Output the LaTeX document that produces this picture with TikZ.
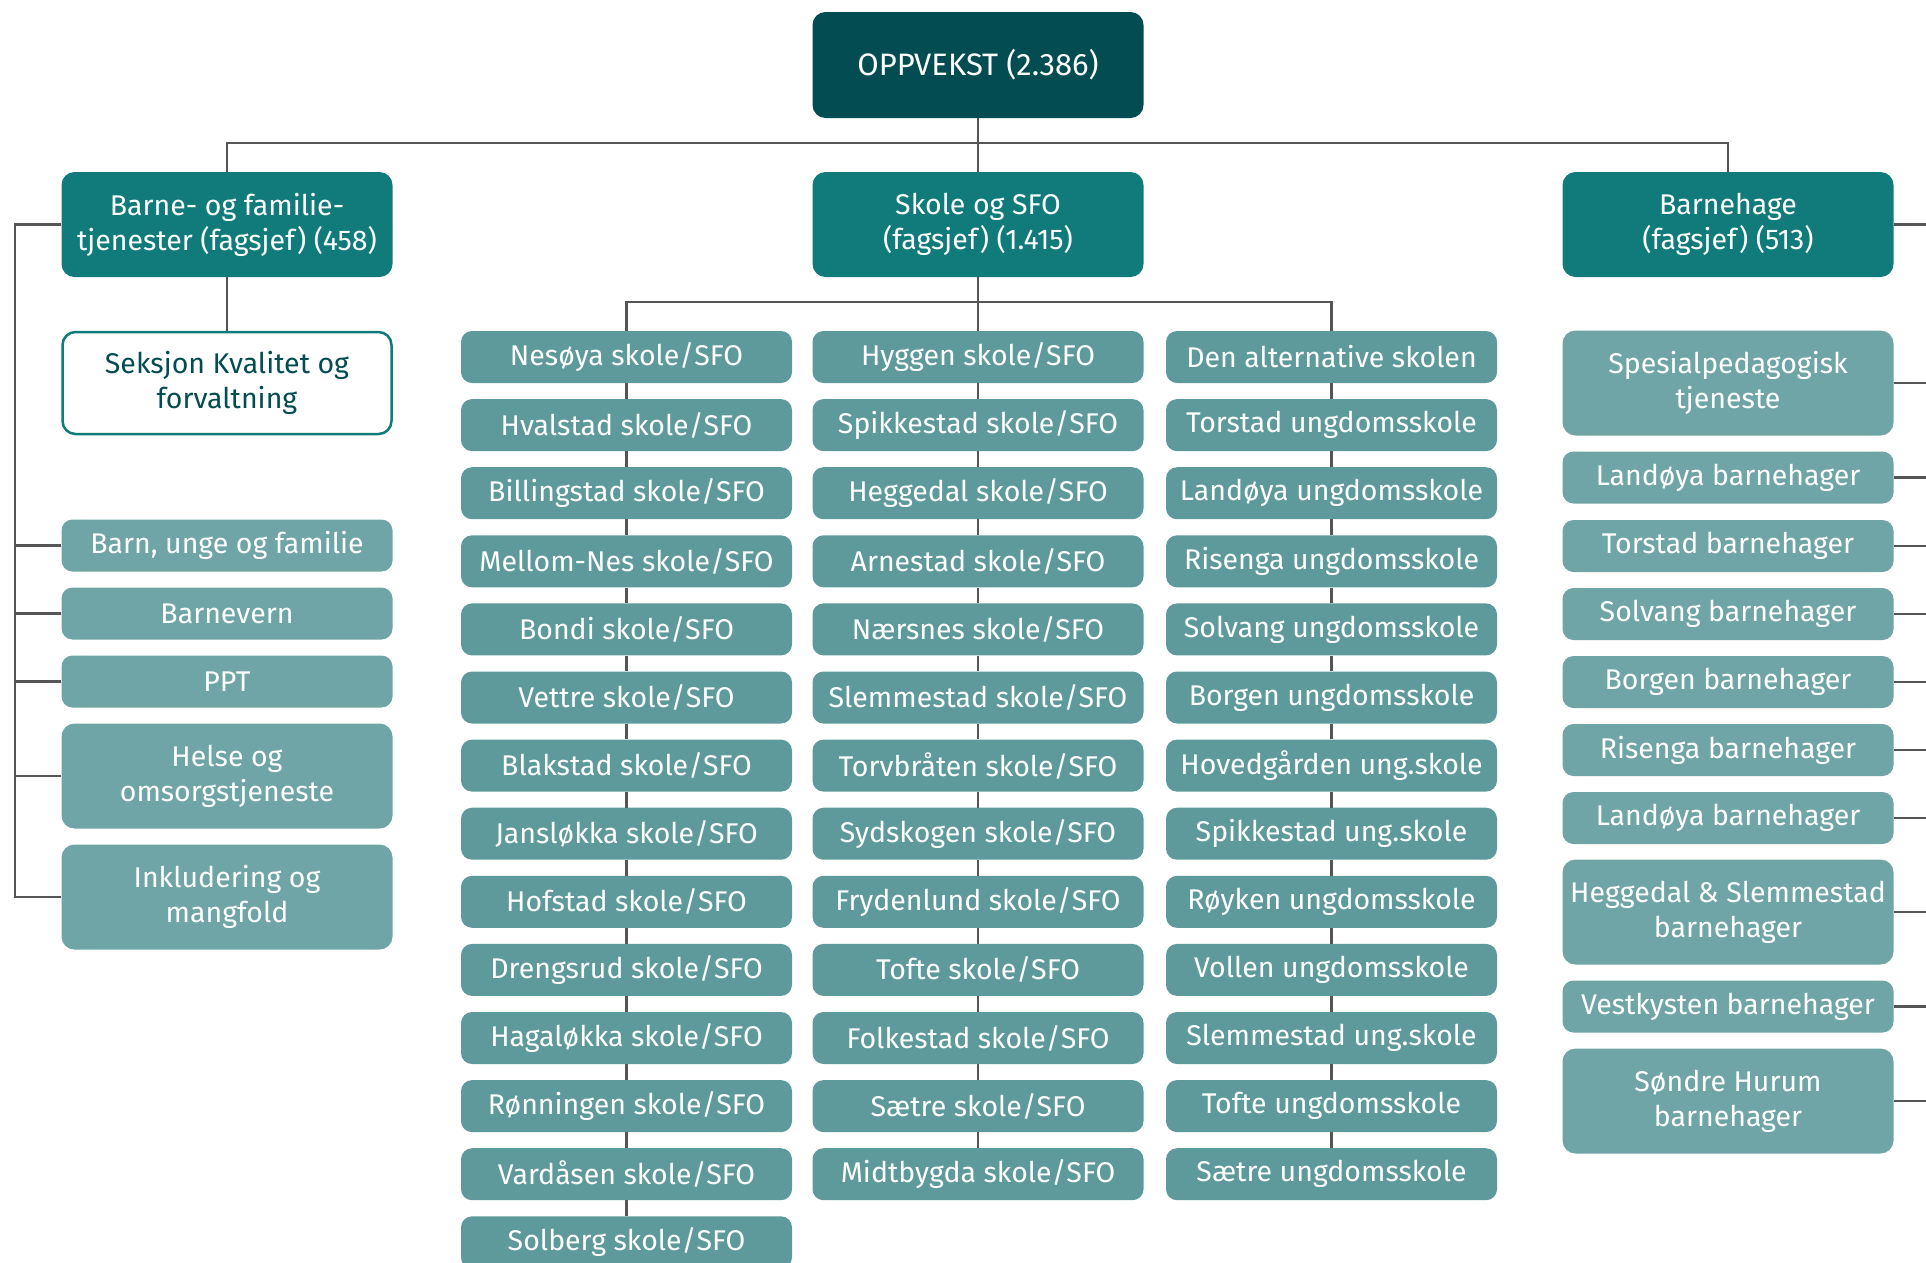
\documentclass[tikz,border=0pt]{standalone}
\usepackage{fontspec}
\setmainfont{Fira Sans}
\definecolor{rootc}{RGB}{3,76,82}
\definecolor{lvltwo}{RGB}{17,123,124}
\definecolor{schoolc}{RGB}{94,154,155}
\definecolor{subc}{RGB}{112,165,167}
\definecolor{linec}{RGB}{85,85,85}
\begin{document}
\begin{tikzpicture}[x=1pt,y=-1pt,
  basebox/.style={rounded corners=11pt, minimum width=331pt, minimum height=52pt, inner sep=0pt, align=center, text=white, font=\fontsize{28.5}{35}\selectfont},
  rootbox/.style={basebox, fill=rootc, minimum height=106pt, rounded corners=13pt, font=\fontsize{31}{36}\selectfont},
  headbox/.style={basebox, fill=lvltwo, minimum height=105pt, rounded corners=13pt},
  schoolbox/.style={basebox, fill=schoolc},
  subbox/.style={basebox, fill=subc},
  subtall/.style={subbox, minimum height=105pt, rounded corners=13pt},
  outlinebox/.style={basebox, fill=white, draw=lvltwo, line width=2.5pt, text=rootc, minimum height=102pt, minimum width=329pt, rounded corners=13pt},
  conn/.style={draw=linec, line width=2.5pt}]
\clip (0,0) rectangle (1926,1262);
\fill[white] (0,0) rectangle (1926,1262);

% top levels
\node[rootbox] (root) at (978,65) {OPPVEKST (2.386)};
\node[headbox] (barne) at (227,224.5) {Barne- og familie-\\tjenester (fagsjef) (458)};
\node[headbox] (skole) at (978,224.5) {Skole og SFO\\(fagsjef) (1.415)};
\node[headbox] (bhage) at (1728,224.5) {Barnehage\\(fagsjef) (513)};

% left column
\node[outlinebox] (seksjon) at (227,383) {Seksjon Kvalitet og\\forvaltning};
\node[subbox] (bu) at (227,545.5) {Barn, unge og familie};
\node[subbox] (bv) at (227,613.5) {Barnevern};
\node[subbox] (ppt) at (227,681.5) {PPT};
\node[subtall] (helse) at (227,776) {Helse og\\omsorgstjeneste};
\node[subtall] (inkl) at (227,897) {Inkludering og\\mangfold};

% schools column 1
\foreach \t [count=\i] in {Nesøya skole/SFO, Hvalstad skole/SFO, Billingstad skole/SFO, Mellom-Nes skole/SFO, Bondi skole/SFO, Vettre skole/SFO, Blakstad skole/SFO, Jansløkka skole/SFO, Hofstad skole/SFO, Drengsrud skole/SFO, Hagaløkka skole/SFO, Rønningen skole/SFO, Vardåsen skole/SFO, Solberg skole/SFO}
  {\node[schoolbox] (a\i) at (626.5,{357+68.1*(\i-1)}) {\t};}
% column 2
\foreach \t [count=\i] in {Hyggen skole/SFO, Spikkestad skole/SFO, Heggedal skole/SFO, Arnestad skole/SFO, Nærsnes skole/SFO, Slemmestad skole/SFO, Torvbråten skole/SFO, Sydskogen skole/SFO, Frydenlund skole/SFO, Tofte skole/SFO, Folkestad skole/SFO, Sætre skole/SFO, Midtbygda skole/SFO}
  {\node[schoolbox] (b\i) at (978,{357+68.1*(\i-1)}) {\t};}
% column 3
\foreach \t [count=\i] in {Den alternative skolen, Torstad ungdomsskole, Landøya ungdomsskole, Risenga ungdomsskole, Solvang ungdomsskole, Borgen ungdomsskole, Hovedgården ung.skole, Spikkestad ung.skole, Røyken ungdomsskole, Vollen ungdomsskole, Slemmestad ung.skole, Tofte ungdomsskole, Sætre ungdomsskole}
  {\node[schoolbox] (c\i) at (1331.5,{357+68.1*(\i-1)}) {\t};}

% barnehage column
\node[subtall] (spes) at (1728,383) {Spesialpedagogisk\\tjeneste};
\node[subbox] (d1) at (1728,477.5) {Landøya barnehager};
\node[subbox] (d2) at (1728,546) {Torstad barnehager};
\node[subbox] (d3) at (1728,614) {Solvang barnehager};
\node[subbox] (d4) at (1728,682) {Borgen barnehager};
\node[subbox] (d5) at (1728,750) {Risenga barnehager};
\node[subbox] (d6) at (1728,818) {Landøya barnehager};
\node[subtall] (hs) at (1728,912) {Heggedal \& Slemmestad\\barnehager};
\node[subbox] (vk) at (1728,1006.5) {Vestkysten barnehager};
\node[subtall] (sh) at (1728,1101) {Søndre Hurum\\barnehager};

% connectors
\draw[conn] (root) -- (skole);
\draw[conn] (barne.north) -- ++(0,-29) -| (bhage.north);
\draw[conn] (barne) -- (seksjon);
\draw[conn] (skole) -- (b1);
\draw[conn] (a1.north) -- ++(0,-29) -| (c1.north);
\foreach \i in {1,...,13} {\pgfmathtruncatemacro{\j}{\i+1}\draw[conn] (a\i) -- (a\j);}
\foreach \i in {1,...,12} {\pgfmathtruncatemacro{\j}{\i+1}\draw[conn] (b\i) -- (b\j);}
\foreach \i in {1,...,12} {\pgfmathtruncatemacro{\j}{\i+1}\draw[conn] (c\i) -- (c\j);}

\coordinate (lx) at (15,0);
\draw[conn] (barne.west) -| (lx |- inkl.west) -- (inkl.west);
\foreach \n in {bu,bv,ppt,helse} {\draw[conn] (\n.west) -- (lx |- \n.west);}

\coordinate (rx) at (1940,0);
\draw[conn] (bhage.east) -| (rx |- sh.east) -- (sh.east);
\foreach \n in {spes,d1,d2,d3,d4,d5,d6,hs,vk} {\draw[conn] (\n.east) -- (rx |- \n.east);}
\end{tikzpicture}
\end{document}
